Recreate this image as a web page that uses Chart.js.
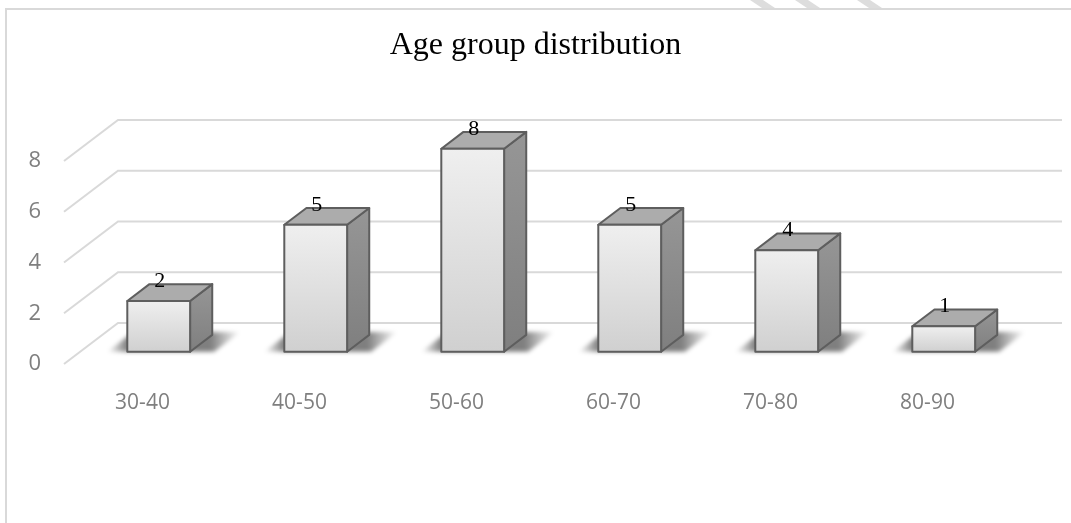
<!DOCTYPE html>
<html>
<head>
<meta charset="utf-8">
<script src="https://cdn.jsdelivr.net/npm/chart.js@4.4.1/dist/chart.umd.min.js"></script>
<style>
  html, body { margin: 0; padding: 0; background: #ffffff; }
  #wrap { width: 1071px; height: 523px; }
</style>
</head>
<body>
<div id="wrap"><canvas id="chart" width="1071" height="523"></canvas></div>
<script>
// ---- data ----
const chartTitle = 'Age group distribution';
const ageGroups = ['30-40', '40-50', '50-60', '60-70', '70-80', '80-90'];
const counts = [2, 5, 8, 5, 4, 1];
const yTicks = [0, 2, 4, 6, 8];

// ---- oblique 3D look ----
const DEPTH_DX = 54;     // floor depth, horizontal shift (px)
const DEPTH_DY = -41;    // floor depth, vertical shift (px)
const BAR_FRONT = 0.3;   // where the bar front sits inside the floor depth
const BAR_DEPTH = 0.41;  // bar thickness as a share of the floor depth
const GRID_RIGHT = 1062; // back wall right end
const GRID_COLOR = '#d9d9d9';
const SERIF = '"Liberation Serif", "Times New Roman", serif';
const SANS = '"Open Sans", "Noto Sans", sans-serif';

const scene3d = {
  id: 'scene3d',
  beforeDraw(chart) {
    const ctx = chart.ctx;
    const ys = chart.scales.y;
    const left = chart.chartArea.left;
    ctx.save();
    ctx.fillStyle = '#ffffff';
    ctx.fillRect(0, 0, chart.width, chart.height);

    // faint diagonal strokes above the frame
    ctx.fillStyle = '#dddddd';
    [[750, 763], [795, 808], [857, 870]].forEach(([a, b]) => {
      ctx.beginPath();
      ctx.moveTo(a, 0); ctx.lineTo(b, 0); ctx.lineTo(b + 12, 8); ctx.lineTo(a + 12, 8);
      ctx.closePath(); ctx.fill();
    });

    // outer frame (top and left edges)
    ctx.strokeStyle = GRID_COLOR;
    ctx.lineWidth = 2;
    ctx.beginPath();
    ctx.moveTo(chart.width, 9); ctx.lineTo(6, 9); ctx.lineTo(6, chart.height);
    ctx.stroke();

    // side wall + back wall gridlines
    yTicks.forEach(v => {
      const y = ys.getPixelForValue(v);
      ctx.beginPath();
      ctx.moveTo(left, y);
      ctx.lineTo(left + DEPTH_DX, y + DEPTH_DY);
      ctx.lineTo(GRID_RIGHT, y + DEPTH_DY);
      ctx.stroke();
    });
    ctx.restore();
  },
  afterDatasetsDraw(chart) {
    const ctx = chart.ctx;
    const meta = chart.getDatasetMeta(0);
    const fx = DEPTH_DX * BAR_FRONT, fy = DEPTH_DY * BAR_FRONT;
    const ddx = DEPTH_DX * BAR_DEPTH, ddy = DEPTH_DY * BAR_DEPTH;

    const boxes = meta.data.map((el, i) => {
      const w = el.width;
      const L = el.x - w / 2 + fx;
      return { L, R: L + w, T: el.y + fy, B: el.base + fy, value: counts[i] };
    });

    ctx.save();
    // soft floor shadows
    ctx.filter = 'blur(2px)';
    boxes.forEach(b => {
      const y0 = b.B, y1 = b.B + ddy - 3;
      const slant = (y1 - y0) * DEPTH_DX / DEPTH_DY;
      const x0 = b.L - 20, x1 = b.R + ddx + 28;
      const span = x1 - x0;
      const g = ctx.createLinearGradient(x0, 0, x1, 0);
      g.addColorStop(0, 'rgba(0,0,0,0)');
      g.addColorStop(20 / span, 'rgba(0,0,0,0.5)');
      g.addColorStop((span - 30) / span, 'rgba(0,0,0,0.5)');
      g.addColorStop(1, 'rgba(0,0,0,0)');
      ctx.fillStyle = g;
      ctx.beginPath();
      ctx.moveTo(x0, y0);
      ctx.lineTo(x1 - slant, y0);
      ctx.lineTo(x1, y1);
      ctx.lineTo(x0 + slant, y1);
      ctx.closePath();
      ctx.fill();
    });
    ctx.filter = 'none';

    // bars
    ctx.lineWidth = 2;
    ctx.lineJoin = 'round';
    ctx.strokeStyle = '#5e5e5e';
    boxes.forEach(b => {
      // side face
      const gs = ctx.createLinearGradient(0, b.T + ddy, 0, b.B);
      gs.addColorStop(0, '#969696');
      gs.addColorStop(1, '#7f7f7f');
      ctx.fillStyle = gs;
      ctx.beginPath();
      ctx.moveTo(b.R, b.T); ctx.lineTo(b.R + ddx, b.T + ddy);
      ctx.lineTo(b.R + ddx, b.B + ddy); ctx.lineTo(b.R, b.B);
      ctx.closePath(); ctx.fill(); ctx.stroke();

      // top face
      ctx.fillStyle = '#acacac';
      ctx.beginPath();
      ctx.moveTo(b.L, b.T); ctx.lineTo(b.R, b.T);
      ctx.lineTo(b.R + ddx, b.T + ddy); ctx.lineTo(b.L + ddx, b.T + ddy);
      ctx.closePath(); ctx.fill(); ctx.stroke();

      // front face
      const gf = ctx.createLinearGradient(0, b.T, 0, b.B);
      gf.addColorStop(0, '#efefef');
      gf.addColorStop(1, '#d0d0d0');
      ctx.fillStyle = gf;
      ctx.fillRect(b.L, b.T, b.R - b.L, b.B - b.T);
      ctx.strokeRect(b.L, b.T, b.R - b.L, b.B - b.T);
    });

    // value labels
    ctx.fillStyle = '#000000';
    ctx.font = '22px ' + SERIF;
    ctx.textAlign = 'center';
    ctx.textBaseline = 'alphabetic';
    boxes.forEach(b => {
      ctx.fillText(String(b.value), (b.L + b.R) / 2 + 1, b.T - 14);
    });
    ctx.restore();
  }
};

new Chart(document.getElementById('chart'), {
  type: 'bar',
  data: {
    labels: ageGroups,
    datasets: [{
      data: counts,
      backgroundColor: 'rgba(0,0,0,0)',
      borderWidth: 0,
      barPercentage: 0.4,
      categoryPercentage: 1
    }]
  },
  options: {
    responsive: false,
    animation: false,
    devicePixelRatio: 1,
    layout: { padding: { left: 0, right: 0, top: 0, bottom: 99 } },
    plugins: {
      legend: { display: false },
      tooltip: { enabled: false },
      title: {
        display: true,
        text: chartTitle,
        color: '#000000',
        font: { family: SERIF, size: 32, weight: 'normal' },
        padding: { top: 26, bottom: 96.6 }
      }
    },
    scales: {
      x: {
        grid: { display: false, drawTicks: false },
        border: { display: false },
        ticks: { color: '#7f7f7f', font: { family: SANS, size: 21 }, padding: 26, maxRotation: 0 },
        afterFit(s) { s.height = 60; }
      },
      y: {
        min: 0,
        max: 8,
        grid: { display: false, drawTicks: false },
        border: { display: false },
        ticks: { color: '#7f7f7f', font: { family: SANS, size: 22 }, padding: 23 },
        afterBuildTicks(s) { s.ticks = yTicks.map(v => ({ value: v })); },
        afterFit(s) { s.width = 64; }
      },
      // empty band holding the back wall's overhang on the right
      side: {
        type: 'linear',
        position: 'right',
        grid: { display: false, drawTicks: false },
        border: { display: false },
        ticks: { display: false },
        afterFit(s) { s.width = 65; }
      }
    }
  },
  plugins: [scene3d]
});
</script>
</body>
</html>
